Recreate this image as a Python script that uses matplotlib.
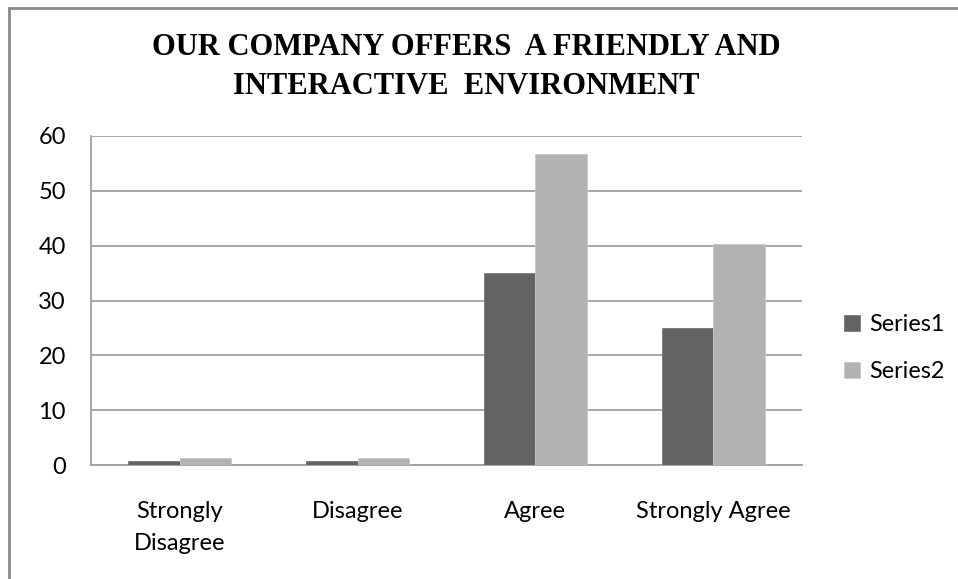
import matplotlib.pyplot as plt
import numpy as np

categories = ['Strongly\nDisagree', 'Disagree', 'Agree', 'Strongly Agree']
series1 = [0.7, 0.7, 35, 25]
series2 = [1.3, 1.3, 56.7, 40.3]
series_names = ['Series1', 'Series2']
colors = ['#636363', '#B2B2B2']
yticks = [0, 10, 20, 30, 40, 50, 60]

fig = plt.figure(figsize=(9.58, 5.79), dpi=100)
ax = fig.add_axes([91 / 958, 1 - 465 / 579, 711 / 958, 329 / 579])

x = np.arange(len(categories))
width = 0.29
ax.bar(x - width / 2, series1, width, color=colors[0], edgecolor='#7a7a7a',
       linewidth=0.6, label=series_names[0], zorder=3)
ax.bar(x + width / 2, series2, width, color=colors[1], edgecolor='#c8c8c8',
       linewidth=0.6, label=series_names[1], zorder=3)

ax.set_xlim(-0.5, len(categories) - 0.5)
ax.set_ylim(0, 60)
ax.set_yticks(yticks)
ax.set_xticks(x)
ax.set_xticklabels(categories, fontfamily='Lato', fontsize=17, linespacing=1.65)
ax.set_yticklabels([str(t) for t in yticks], fontfamily='Lato', fontsize=17)
ax.tick_params(axis='both', length=0, colors='#000000')
ax.tick_params(axis='y', pad=18)
ax.tick_params(axis='x', pad=26)

ax.grid(axis='y', color='#A0A0A0', linewidth=1.3, zorder=0)
for side in ['top', 'right']:
    ax.spines[side].set_visible(False)
ax.spines['left'].set_color('#A0A0A0')
ax.spines['bottom'].set_color('#A0A0A0')
ax.spines['left'].set_linewidth(1.3)
ax.spines['bottom'].set_linewidth(1.3)

fig.legend(loc='center left', bbox_to_anchor=(823 / 958, 1 - 348 / 579),
           frameon=False, prop={'family': 'Lato', 'size': 16.8},
           handlelength=0.7, handleheight=0.7, handletextpad=0.4,
           labelspacing=1.1)

fig.text(466 / 958, 1 - 67 / 579,
         'OUR COMPANY OFFERS  A FRIENDLY AND\nINTERACTIVE  ENVIRONMENT',
         ha='center', va='center', fontfamily='Liberation Serif',
         fontweight='bold', fontsize=22, linespacing=1.42)

# grey frame around the chart area
fig.add_artist(plt.Line2D([9 / 958, 9 / 958], [0, 1 - 8 / 579],
                          transform=fig.transFigure, color='#8a8a8a', linewidth=2))
fig.add_artist(plt.Line2D([9 / 958, 1], [1 - 8 / 579, 1 - 8 / 579],
                          transform=fig.transFigure, color='#8a8a8a', linewidth=2))

fig.savefig('out.png', dpi=100)
